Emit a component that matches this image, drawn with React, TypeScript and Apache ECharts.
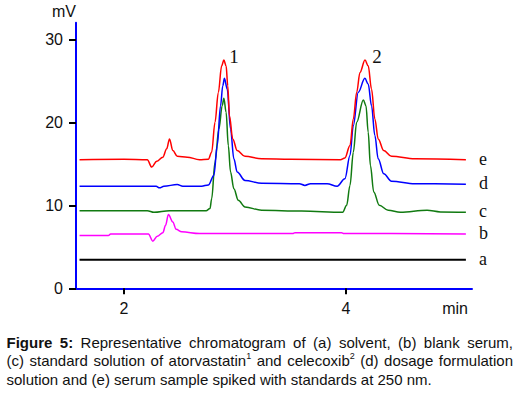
import React, { useEffect, useRef } from 'react';
import * as echarts from 'echarts';

// ---- axes ----
const xRange = [1.568, 5.135];
const yRange = [0, 32];
const xTickValues = [2, 4];
const yTickValues = [0, 10, 20, 30];

// ---- traces (time in min, signal in mV) ----
const seriesNames = ['a', 'b', 'c', 'd', 'e'];
const seriesColors = ['#000000', '#ff00ff', '#117a11', '#0000ff', '#ff0000'];

const traceA = [[1.6, 3.45], [5.08, 3.45]];

const traceB = [
  [1.6, 6.36], [1.86, 6.36], [1.88, 6.55], [2.22, 6.55], [2.26, 5.68], [2.3, 6.28],
  [2.35, 6.7], [2.375, 7.6], [2.4, 8.9], [2.44, 8.0], [2.47, 7.1], [2.52, 6.8],
  [2.68, 6.6], [3.52, 6.6], [3.54, 6.7], [3.96, 6.7], [3.98, 6.6], [5.08, 6.55],
];

const traceC = [
  [1.6, 9.35], [2.21, 9.35], [2.27, 9.15], [2.41, 9.35], [2.74, 9.35], [2.775, 9.6],
  [2.79, 10.8], [2.82, 15.2], [2.855, 19.2], [2.885, 22.0], [2.9, 22.9], [2.92, 21.2],
  [2.94, 17.2], [2.96, 14.0], [2.99, 12.0], [3.03, 10.6], [3.09, 9.8], [3.24, 9.4],
  [3.6, 9.3], [3.97, 9.15], [4.006, 10.0], [4.036, 12.4], [4.066, 16.4], [4.096, 20.0],
  [4.156, 22.7], [4.18, 22.0], [4.2, 18.8], [4.22, 14.8], [4.25, 11.6], [4.3, 10.0],
  [4.38, 9.4], [4.49, 9.15], [4.73, 9.4], [4.85, 9.2], [5.08, 9.15],
];

const traceD = [
  [1.6, 12.3], [2.29, 12.3], [2.32, 12.1], [2.36, 12.3], [2.48, 12.5], [2.53, 12.3],
  [2.7, 12.3], [2.76, 12.45], [2.81, 13.6], [2.84, 17.2], [2.87, 22.0], [2.89, 24.4],
  [2.905, 25.3], [2.93, 24.0], [2.96, 19.2], [2.99, 15.6], [3.02, 14.0], [3.09, 13.0],
  [3.24, 12.65], [3.58, 12.6], [3.63, 12.4], [3.68, 12.6], [3.83, 12.6], [3.92, 12.3],
  [3.99, 13.2], [4.036, 16.0], [4.066, 19.6], [4.11, 23.6], [4.17, 25.3], [4.2, 24.6],
  [4.23, 22.0], [4.26, 18.4], [4.29, 15.6], [4.34, 13.8], [4.41, 12.9], [4.62, 12.6],
  [5.08, 12.55],
];

const traceE = [
  [1.6, 15.5], [2.0, 15.55], [2.21, 15.5], [2.25, 14.6], [2.295, 15.3], [2.35, 15.8],
  [2.385, 16.8], [2.41, 18.0], [2.44, 16.6], [2.48, 15.9], [2.57, 15.8], [2.68, 15.5],
  [2.76, 15.55], [2.79, 16.4], [2.82, 20.0], [2.85, 23.6], [2.88, 26.8], [2.9, 27.5],
  [2.92, 26.8], [2.935, 24.4], [2.95, 20.8], [2.98, 18.0], [3.02, 16.6], [3.09, 15.9],
  [3.24, 15.6], [3.5, 15.55], [3.95, 15.5], [3.99, 15.7], [4.036, 17.2], [4.066, 20.4],
  [4.096, 23.6], [4.126, 26.0], [4.171, 27.5], [4.2, 26.8], [4.23, 24.0], [4.26, 20.4],
  [4.29, 18.0], [4.34, 16.6], [4.41, 15.9], [4.62, 15.6], [5.08, 15.5],
];

const traces = [traceA, traceB, traceC, traceD, traceE];

// ---- peak annotations ----
const peakLabels = ['1', '2'];
const peakTimes = [2.9, 4.171];
const peakHeights = [27.5, 27.5];

// ---- caption (** = bold word, ^ = superscript) ----
const captionLines = [
  '**Figure **5: Representative chromatogram of (a) solvent, (b) blank serum,',
  '(c) standard solution of atorvastatin^1 and celecoxib^2 (d) dosage formulation',
  'solution and (e) serum sample spiked with standards at 250 nm.',
];

const SANS = 'Arial, "Liberation Sans", sans-serif';
const SERIF = '"Times New Roman", "Liberation Serif", serif';

function buildCaption() {
  const canvas = document.createElement('canvas');
  const ctx = canvas.getContext('2d') as CanvasRenderingContext2D;
  const size = 15;
  const supSize = 9;
  const left = 6.5;
  const right = 513;
  const top = 342.3;
  const lineH = 18.4;
  const fontOf = (bold: boolean, sz: number) => `${bold ? 'bold ' : ''}${sz}px ${SANS}`;
  const measure = (t: string, f: string) => {
    ctx.font = f;
    return ctx.measureText(t).width;
  };
  const els: any[] = [];
  captionLines.forEach((line, li) => {
    const words = line.split(' ');
    const parsed = words.map((w) => {
      const segs: { text: string; font: string; sup: boolean }[] = [];
      let bold = false;
      let body = w;
      if (body.startsWith('**')) {
        bold = true;
        body = body.replace(/\*\*/g, '');
      }
      const parts = body.split('^');
      segs.push({ text: parts[0], font: fontOf(bold, size), sup: false });
      if (parts.length > 1) segs.push({ text: parts[1], font: fontOf(false, supSize), sup: true });
      const width = segs.reduce((s, g) => s + measure(g.text, g.font), 0);
      return { segs, width };
    });
    const total = parsed.reduce((s, p) => s + p.width, 0);
    const justify = li < captionLines.length - 1;
    const gap = justify ? (right - left - total) / (parsed.length - 1) : measure(' ', fontOf(false, size));
    let x = left;
    const y = top + li * lineH;
    parsed.forEach((p) => {
      p.segs.forEach((g) => {
        els.push({
          type: 'text',
          x,
          y: g.sup ? y - 5 : y,
          silent: true,
          style: { text: g.text, font: g.font, fill: '#111111', verticalAlign: 'middle', align: 'left' },
        });
        x += measure(g.text, g.font);
      });
      x += gap;
    });
  });
  return els;
}

export default function App() {
  const ref = useRef<HTMLDivElement>(null);
  useEffect(() => {
    document.body.style.margin = '0';
    if (!ref.current) return;
    const chart = echarts.init(ref.current, null, { renderer: 'svg' });
    const axisFont = { fontFamily: SANS, fontSize: 16, color: '#111111' };
    const series: any[] = traces.map((data, i) => ({
      type: 'line',
      name: seriesNames[i],
      data,
      showSymbol: false,
      smooth: 0.35,
      smoothMonotone: 'x',
      lineStyle: { color: seriesColors[i], width: i === 0 ? 2 : 1.5 },
      itemStyle: { color: seriesColors[i] },
      endLabel: {
        show: true,
        formatter: seriesNames[i],
        offset: [5, -1],
        fontFamily: SERIF,
        fontSize: 18,
        color: '#111111',
      },
      markPoint:
        i === 4
          ? {
              symbol: 'circle',
              symbolSize: 1,
              itemStyle: { color: 'rgba(0,0,0,0)' },
              data: peakLabels.map((lab, k) => ({
                coord: [peakTimes[k], peakHeights[k]],
                value: lab,
                label: {
                  show: true,
                  formatter: lab,
                  position: 'inside',
                  offset: [k === 0 ? 10 : 12, -4],
                  fontFamily: SERIF,
                  fontSize: 19,
                  color: '#111111',
                },
              })),
            }
          : undefined,
    }));
    chart.setOption({
      animation: false,
      backgroundColor: '#ffffff',
      grid: { left: 76, right: 59, top: 22.7, bottom: 104.7, containLabel: false, outerBoundsMode: 'none' },
      xAxis: {
        type: 'value',
        min: xRange[0],
        max: xRange[1],
        name: 'min',
        nameLocation: 'end',
        nameGap: -4,
        nameTextStyle: { ...axisFont, align: 'right', verticalAlign: 'top', padding: [12, 0, 0, 0] },
        splitLine: { show: false },
        axisLine: { show: true, onZero: false, lineStyle: { color: '#0000ff', width: 2 } },
        axisTick: { show: true, customValues: xTickValues, length: 6, lineStyle: { color: '#000000', width: 2 } },
        axisLabel: { customValues: xTickValues, margin: 12, ...axisFont },
      },
      yAxis: {
        type: 'value',
        min: yRange[0],
        max: yRange[1],
        name: 'mV',
        nameLocation: 'end',
        nameGap: 3,
        nameTextStyle: { ...axisFont, align: 'right' },
        splitLine: { show: false },
        axisLine: { show: true, lineStyle: { color: '#0000ff', width: 2 } },
        axisTick: { show: true, customValues: yTickValues, length: 7, lineStyle: { color: '#000000', width: 2 } },
        axisLabel: { customValues: yTickValues, margin: 13, ...axisFont },
      },
      series,
      graphic: buildCaption(),
    });
    return () => chart.dispose();
  }, []);
  return <div ref={ref} style={{ width: 531, height: 393 }} />;
}
